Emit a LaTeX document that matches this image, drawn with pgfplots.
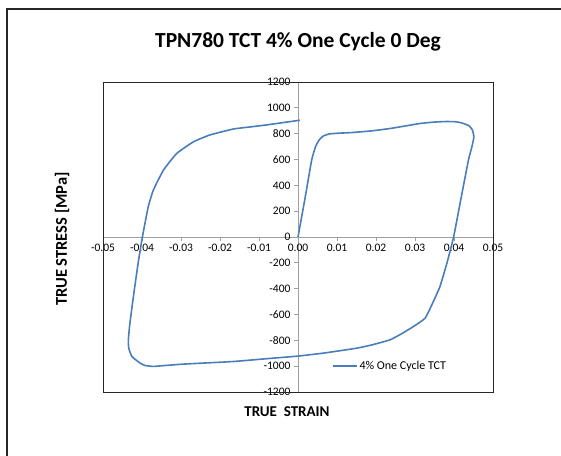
\documentclass[border=0pt]{standalone}
\usepackage{pgfplots}
\pgfplotsset{compat=1.18}
\usepackage{fontspec}
\setmainfont{Carlito}
\definecolor{xlblue}{RGB}{74,126,187}

\begin{document}
\begin{tikzpicture}
\useasboundingbox (0pt,0pt) rectangle (561pt,455pt);
% chart area frame (only top and left are visible)
\draw[line width=1.4pt, black!85] (7pt,-10pt) -- (7pt,446pt) -- (575pt,446pt);
\node[font=\bfseries\fontsize{21.5}{25}\selectfont] at (298pt,413pt) {TPN780 TCT 4\% One Cycle 0 Deg};
\node[font=\bfseries\fontsize{15}{18}\selectfont] at (287pt,43pt) {TRUE\ \ STRAIN};
\node[font=\bfseries\fontsize{16.5}{19}\selectfont, rotate=90] at (62pt,216pt) {TRUE STRESS [MPa]};

\begin{axis}[
    at={(103pt,63pt)}, anchor=south west,
    scale only axis,
    width=390pt, height=310pt,
    axis lines=middle,
    axis line style={draw=gray!75, line width=0.8pt, -},
    xmin=-0.05, xmax=0.05,
    ymin=-1200, ymax=1200,
    xtick={-0.05,-0.04,-0.03,-0.02,-0.01,0,0.01,0.02,0.03,0.04,0.05},
    ytick={-1200,-1000,-800,-600,-400,-200,0,200,400,600,800,1000,1200},
    hide obscured x ticks=false,
    hide obscured y ticks=false,
    scaled x ticks=false,
    tick align=outside,
    major tick length=4pt,
    tick style={draw=gray!75, line width=0.8pt},
    ticklabel style={font=\fontsize{11.5}{13}\selectfont, /pgf/number format/assume math mode=true},
    xticklabel style={/pgf/number format/.cd, fixed, fixed zerofill, precision=2},
    yticklabel style={/pgf/number format/.cd, fixed, 1000 sep={}},
    clip=false,
    legend style={at={(rel axis cs:0.579,0.084)}, anchor=west, draw=none, fill=white,
        font=\fontsize{12}{14}\selectfont},
    legend image code/.code={\draw[#1] (0pt,0pt) -- (24pt,0pt);},
]
\draw[black!85, line width=0.9pt] (rel axis cs:0,0) rectangle (rel axis cs:1,1);

\addplot[color=xlblue, line width=1.6pt, line join=round, smooth, tension=0.25] coordinates {
    (0.0000, 0)
    (0.0018, 300)
    (0.0035, 595)
    (0.0045, 700)
    (0.0055, 755)
    (0.0065, 782)
    (0.0080, 798)
    (0.0100, 803)
    (0.0140, 809)
    (0.0190, 822)
    (0.0236, 840)
    (0.0280, 862)
    (0.0313, 879)
    (0.0350, 890)
    (0.0381, 894)
    (0.0405, 892)
    (0.0420, 883)
    (0.0438, 862)
    (0.0447, 830)
    (0.0451, 775)
    (0.0446, 700)
    (0.0437, 595)
    (0.0418, 300)
    (0.0399, 0)
    (0.0382, -200)
    (0.0364, -384)
    (0.0347, -500)
    (0.0326, -628)
    (0.0296, -693)
    (0.0265, -750)
    (0.0236, -796)
    (0.0190, -835)
    (0.0150, -861)
    (0.0065, -899)
    (0.0000, -922)
    (-0.0080, -942)
    (-0.0166, -964)
    (-0.0294, -984)
    (-0.0345, -996)
    (-0.0371, -1002)
    (-0.0392, -995)
    (-0.0405, -976)
    (-0.0426, -925)
    (-0.0434, -860)
    (-0.0435, -796)
    (-0.0431, -667)
    (-0.0422, -461)
    (-0.0410, -203)
    (-0.0399, 0)
    (-0.0384, 234)
    (-0.0371, 363)
    (-0.0345, 518)
    (-0.0311, 647)
    (-0.0268, 737)
    (-0.0226, 790)
    (-0.0166, 836)
    (-0.0123, 852)
    (-0.0080, 868)
    (0.0005, 904)
};
\addlegendentry{4\% One Cycle TCT}
\end{axis}
\end{tikzpicture}
\end{document}
